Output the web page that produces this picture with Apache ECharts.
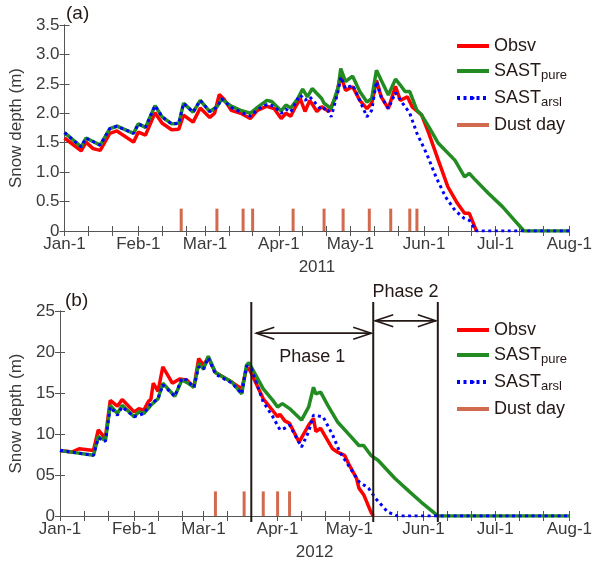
<!DOCTYPE html>
<html>
<head>
<meta charset="utf-8">
<script src="https://cdn.jsdelivr.net/npm/echarts@6/dist/echarts.min.js"></script>
<style>
  html, body { margin: 0; padding: 0; background: #fff; }
  #main { width: 595px; height: 563px; }
</style>
</head>
<body>
<div id="main"></div>
<script>
// x values are days since Jan-1 of the year
const monthLabels = ['Jan-1', 'Feb-1', 'Mar-1', 'Apr-1', 'May-1', 'Jun-1', 'Jul-1', 'Aug-1']
const monthStartsA = [0, 31, 59, 90, 120, 151, 181, 212] // 2011
const monthStartsB = [0, 31, 60, 91, 121, 152, 182, 213] // 2012
const yLabelsA = ['0', '0.5', '1.0', '1.5', '2.0', '2.5', '3.0', '3.5']
const yLabelsB = ['0', '05', '10', '15', '20', '25']

// (a) 2011
const obsvA = [[0, 1.58], [7, 1.36], [9, 1.51], [12, 1.40], [15, 1.37], [19, 1.66], [22, 1.70], [29, 1.51], [31, 1.68], [34, 1.63], [38, 2.01], [41, 1.83], [45, 1.72], [48, 1.73], [50, 1.97], [54, 1.85], [57, 2.09], [61, 1.93], [63, 2.00], [65, 2.32], [67, 2.24], [70, 2.05], [74, 2.00], [78, 1.91], [81, 2.05], [85, 2.12], [88, 2.08], [91, 1.91], [93, 2.00], [95, 1.95], [97, 2.11], [99, 2.25], [101, 2.03], [103, 2.22], [106, 2.03], [108, 2.11], [111, 2.03], [114, 2.28], [116, 2.65], [118, 2.39], [121, 2.45], [124, 2.22], [127, 2.08], [129, 2.17], [131, 2.56], [133, 2.28], [136, 2.08], [139, 2.46], [141, 2.22], [144, 2.28], [146, 2.11], [150, 1.97], [153, 1.66], [157, 1.20], [161, 0.75], [165, 0.47], [168, 0.30], [170, 0.30], [172, 0.10], [173, 0]]
const pureA = [[0, 1.67], [7, 1.43], [9, 1.58], [15, 1.46], [19, 1.74], [22, 1.78], [29, 1.66], [31, 1.82], [34, 1.76], [38, 2.13], [41, 1.94], [45, 1.82], [48, 1.83], [50, 2.17], [54, 2.02], [57, 2.22], [61, 2.03], [64, 2.11], [66, 2.24], [70, 2.12], [74, 2.05], [78, 2.00], [81, 2.10], [85, 2.22], [87, 2.20], [91, 2.04], [93, 2.14], [95, 2.09], [98, 2.25], [100, 2.41], [102, 2.28], [104, 2.42], [108, 2.25], [109, 2.17], [112, 2.08], [115, 2.45], [116, 2.76], [118, 2.54], [121, 2.63], [124, 2.37], [127, 2.19], [129, 2.25], [131, 2.73], [133, 2.56], [136, 2.31], [139, 2.58], [141, 2.48], [143, 2.37], [145, 2.37], [148, 2.05], [150, 1.97], [153, 1.77], [157, 1.49], [164, 1.20], [168, 0.92], [170, 0.98], [172, 0.89], [178, 0.64], [184, 0.41], [189, 0.18], [193, 0], [212, 0]]
const arslA = [[0, 1.67], [7, 1.43], [9, 1.58], [15, 1.46], [19, 1.74], [22, 1.78], [29, 1.66], [31, 1.82], [34, 1.76], [38, 2.13], [41, 1.94], [45, 1.82], [48, 1.83], [50, 2.17], [54, 2.02], [57, 2.22], [61, 2.03], [64, 2.10], [66, 2.25], [70, 2.10], [74, 2.02], [78, 1.95], [81, 2.06], [85, 2.15], [88, 2.12], [91, 2.00], [93, 2.07], [95, 2.02], [98, 2.25], [99, 2.31], [101, 2.22], [103, 2.28], [108, 2.05], [110, 2.10], [112, 1.94], [115, 2.39], [116, 2.62], [118, 2.42], [121, 2.48], [124, 2.22], [127, 1.94], [129, 2.05], [131, 2.54], [133, 2.28], [136, 2.08], [139, 2.35], [142, 2.17], [145, 2.00], [148, 1.66], [152, 1.32], [156, 0.92], [160, 0.58], [164, 0.35], [168, 0.21], [170, 0.18], [173, 0], [212, 0]]
const dustDaysA = [49, 64, 75, 79, 96, 109, 117, 128, 137, 145, 148]
const dustHeightA = 0.38

// (b) 2012
const obsvB = [[0, 8.0], [5, 7.8], [8, 8.2], [14, 8.0], [16, 10.5], [18, 9.8], [19, 9.6], [21, 14.1], [24, 13.4], [26, 14.2], [31, 12.7], [33, 13.1], [35, 12.9], [37, 14.0], [38, 14.2], [39, 16.2], [41, 15.2], [43, 18.2], [47, 16.2], [50, 16.7], [53, 16.6], [56, 15.7], [58, 19.2], [60, 18.4], [62, 19.3], [65, 17.5], [72, 16.3], [76, 15.5], [78, 18.0], [79, 18.0], [81, 16.8], [85, 14.3], [91, 12.1], [92, 12.4], [94, 11.6], [96, 11.3], [100, 9.0], [104, 11.1], [106, 11.9], [107, 10.3], [109, 10.7], [114, 8.2], [116, 7.8], [119, 7.4], [121, 6.2], [124, 4.6], [125, 3.4], [127, 2.6], [130, 0.5], [131, 0]]
const pureB = [[0, 8.0], [7, 7.7], [14, 7.4], [16, 9.7], [19, 9.2], [21, 13.5], [24, 12.5], [26, 13.5], [31, 12.1], [33, 12.7], [35, 12.5], [38, 13.5], [41, 14.3], [43, 16.2], [48, 14.6], [51, 16.6], [53, 16.3], [56, 15.7], [58, 18.6], [60, 17.9], [62, 19.5], [65, 17.5], [72, 16.3], [76, 14.9], [78, 18.4], [79, 18.7], [85, 15.5], [89, 14.1], [91, 13.3], [93, 13.7], [96, 13.1], [101, 11.7], [104, 13.3], [106, 15.7], [107, 14.9], [109, 15.1], [112, 13.5], [116, 11.5], [121, 9.9], [125, 8.6], [127, 8.6], [130, 7.4], [133, 6.8], [140, 4.6], [146, 3.0], [151, 1.7], [156, 0.5], [158, 0], [213, 0]]
const arslB = [[0, 8.0], [7, 7.7], [14, 7.4], [16, 9.5], [19, 9.1], [21, 13.3], [24, 12.3], [26, 13.3], [31, 12.1], [35, 12.5], [38, 13.7], [41, 14.3], [43, 16.0], [48, 14.6], [51, 16.8], [53, 16.6], [56, 15.7], [58, 18.2], [60, 17.9], [62, 19.3], [65, 17.3], [72, 16.2], [76, 14.9], [78, 18.3], [80, 18.0], [85, 13.9], [89, 12.1], [92, 10.5], [94, 10.7], [96, 11.1], [101, 8.4], [104, 10.3], [106, 12.3], [110, 12.1], [114, 9.9], [117, 7.8], [121, 6.0], [125, 4.2], [129, 3.4], [132, 2.15], [137, 0.5], [141, 0], [213, 0]]
const dustDaysB = [65, 77, 85, 91, 96]
const dustHeightB = 3
const phaseBounds = [80, 131, 158] // days in 2012

const font = 'Liberation Sans, Arial, sans-serif'
const txt = '#3a3a3a'
const axisColor = '#555'
const red = '#ff0000'
const green = '#228b22'
const blue = '#0000ff'
const dust = '#d26a4f'

function tenDayTicks(starts) {
  const t = []
  starts.forEach((s, i) => {
    t.push(s)
    if (i < starts.length - 1) t.push(s + 10, s + 20)
  })
  return t
}

function xAxes(g, starts, year) {
  const ticks = tenDayTicks(starts)
  return [{
    type: 'value', gridIndex: g, min: 0, max: starts[starts.length - 1], position: 'bottom',
    name: year, nameLocation: 'middle', nameGap: 28,
    nameTextStyle: { fontSize: 17, color: txt, fontFamily: font },
    axisLine: { lineStyle: { color: axisColor } },
    axisTick: { inside: true, length: 5, customValues: ticks, lineStyle: { color: axisColor } },
    axisLabel: {
      customValues: starts, fontSize: 17, color: txt, fontFamily: font, margin: 5,
      formatter: v => monthLabels[starts.indexOf(v)]
    },
    splitLine: { show: false }
  }, {
    type: 'value', gridIndex: g, min: 0, max: starts[starts.length - 1], position: 'top',
    axisLine: { lineStyle: { color: axisColor } },
    axisTick: { inside: true, length: 5, customValues: ticks, lineStyle: { color: axisColor } },
    axisLabel: { show: false },
    splitLine: { show: false }
  }]
}

function yAxes(g, max, interval, labels) {
  return [{
    type: 'value', gridIndex: g, min: 0, max: max, interval: interval, position: 'left',
    name: 'Snow depth (m)', nameLocation: 'middle', nameGap: 35,
    nameTextStyle: { fontSize: 17, color: txt, fontFamily: font },
    axisLine: { show: true, lineStyle: { color: axisColor } },
    axisTick: { show: true, inside: true, length: 5, lineStyle: { color: axisColor } },
    axisLabel: { fontSize: 17, color: txt, fontFamily: font, margin: 5, formatter: v => labels[Math.round(v / interval)] },
    splitLine: { show: false }
  }, {
    type: 'value', gridIndex: g, min: 0, max: max, interval: interval, position: 'right',
    axisLine: { show: true, lineStyle: { color: axisColor } },
    axisTick: { show: true, inside: true, length: 5, lineStyle: { color: axisColor } },
    axisLabel: { show: false },
    splitLine: { show: false }
  }]
}

function panelSeries(xi, yi, obsv, pure, arsl, dustDays, dustH) {
  return [{
    name: 'Obsv', type: 'line', xAxisIndex: xi, yAxisIndex: yi, data: obsv, symbol: 'none',
    lineStyle: { color: red, width: 3.5 }, itemStyle: { color: red }, z: 3
  }, {
    name: 'SAST_pure', type: 'line', xAxisIndex: xi, yAxisIndex: yi, data: pure, symbol: 'none',
    lineStyle: { color: green, width: 3.5 }, itemStyle: { color: green }, z: 4
  }, {
    name: 'SAST_arsl', type: 'line', xAxisIndex: xi, yAxisIndex: yi, data: arsl, symbol: 'none',
    lineStyle: { color: blue, width: 3, type: [3, 3.5] }, itemStyle: { color: blue }, z: 5
  }, {
    name: 'Dust day', type: 'bar', xAxisIndex: xi, yAxisIndex: yi, barWidth: 3,
    data: dustDays.map(d => [d, dustH]), itemStyle: { color: dust }, z: 2
  }]
}

function legend(legendTop) {
  return {
    orient: 'vertical', left: 450, top: legendTop, itemWidth: 32, itemHeight: 4, itemGap: 7,
    selectedMode: false,
    lineStyle: { width: 4 },
    data: [{ name: 'Obsv' }, { name: 'SAST_pure' }, { name: 'SAST_arsl' }, { name: 'Dust day', icon: 'rect' }],
    formatter: n => n.indexOf('_') > 0 ? 'SAST{sub|' + n.split('_')[1] + '}' : n,
    textStyle: {
      fontSize: 18, color: '#231815', fontFamily: font,
      rich: { sub: { fontSize: 13, fontFamily: font, color: '#231815', padding: [9, 0, 0, 0] } }
    }
  }
}

const chart = echarts.init(document.getElementById('main'))
chart.setOption({
  animation: false,
  backgroundColor: '#fff',
  grid: [
    { left: 60, top: 25, width: 512, height: 206 },
    { left: 60, top: 311, width: 512, height: 205 }
  ],
  xAxis: xAxes(0, monthStartsA, '2011').concat(xAxes(1, monthStartsB, '2012')),
  yAxis: yAxes(0, 3.5, 0.5, yLabelsA).concat(yAxes(1, 25, 5, yLabelsB)),
  legend: [legend(32), legend(316)],
  series: panelSeries(0, 0, obsvA, pureA, arslA, dustDaysA, dustHeightA)
    .concat(panelSeries(2, 2, obsvB, pureB, arslB, dustDaysB, dustHeightB))
})

// phase lines, arrows and labels in panel (b)
const px = v => chart.convertToPixel({ xAxisIndex: 2 }, v)
const py = v => chart.convertToPixel({ yAxisIndex: 2 }, v)
const dark = '#231815'
const lineTop = py(25) - 9
const lineBottom = py(0) + 6
const graphics = []
phaseBounds.forEach(d => {
  const x = px(d)
  graphics.push({ type: 'line', z: 100, shape: { x1: x, y1: lineTop, x2: x, y2: lineBottom }, style: { stroke: dark, lineWidth: 2 } })
})
function arrow(x1, x2, y) {
  const h = 18, w = 6
  graphics.push({ type: 'line', z: 100, shape: { x1: x1, y1: y, x2: x2, y2: y }, style: { stroke: dark, lineWidth: 1.6 } })
  graphics.push({ type: 'polyline', z: 100, shape: { points: [[x1 + h, y - w], [x1, y], [x1 + h, y + w]] }, style: { stroke: dark, lineWidth: 1.6, fill: null } })
  graphics.push({ type: 'polyline', z: 100, shape: { points: [[x2 - h, y - w], [x2, y], [x2 - h, y + w]] }, style: { stroke: dark, lineWidth: 1.6, fill: null } })
}
arrow(px(phaseBounds[0]) + 5, px(phaseBounds[1]) - 2, py(22.3))
arrow(px(phaseBounds[1]) + 2, px(phaseBounds[2]) - 2, py(23.8))
graphics.push({
  type: 'text', z: 100, x: (px(phaseBounds[0]) + px(phaseBounds[1])) / 2, y: py(19.4),
  style: { text: 'Phase 1', font: '18px ' + font, fill: dark, align: 'center', verticalAlign: 'middle' }
})
graphics.push({
  type: 'text', z: 100, x: (px(phaseBounds[1]) + px(phaseBounds[2])) / 2, y: py(27.3),
  style: { text: 'Phase 2', font: '18px ' + font, fill: dark, align: 'center', verticalAlign: 'middle' }
})
graphics.push({ type: 'text', left: 66, top: 4, style: { text: '(a)', font: '19px ' + font, fill: dark } })
graphics.push({ type: 'text', left: 65, top: 291, style: { text: '(b)', font: '19px ' + font, fill: dark } })
chart.setOption({ graphic: graphics })
</script>
</body>
</html>
